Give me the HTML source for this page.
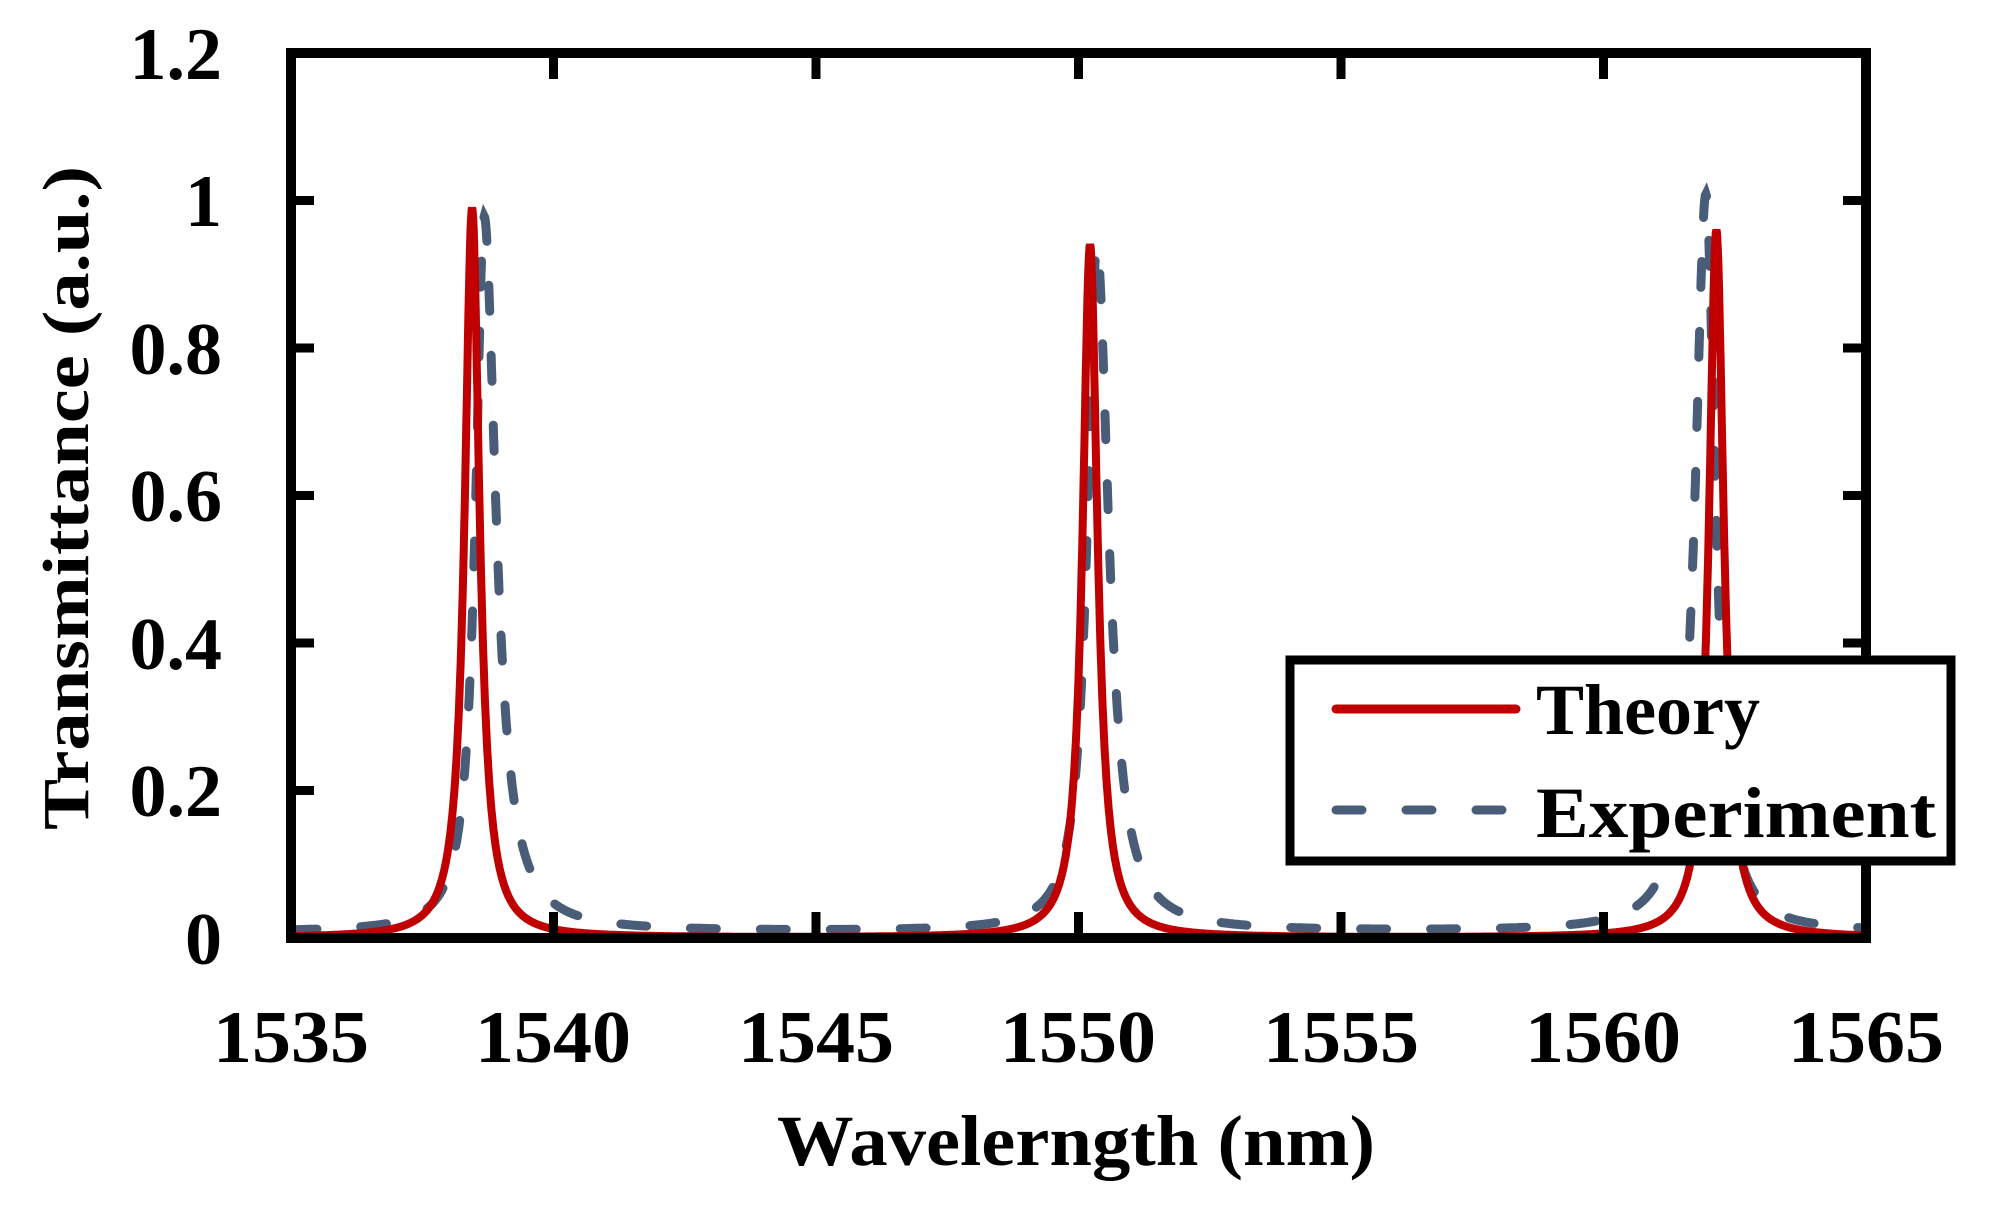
<!DOCTYPE html>
<html><head><meta charset="utf-8"><style>
html,body{margin:0;padding:0;background:#fff;}
svg{display:block;}
text{font-family:"Liberation Serif",serif;font-weight:bold;fill:#000;}
</style></head><body>
<svg id="s" width="1993" height="1211" viewBox="0 0 1993 1211" xmlns="http://www.w3.org/2000/svg">
<g font-size="74" text-anchor="end">
<text x="222" y="79">1.2</text>
<text x="222" y="226">1</text>
<text x="222" y="374">0.8</text>
<text x="222" y="521">0.6</text>
<text x="222" y="669">0.4</text>
<text x="222" y="816">0.2</text>
<text x="222" y="964">0</text>
</g>
<g font-size="74" text-anchor="middle">
<text x="291" y="1062" textLength="156" lengthAdjust="spacingAndGlyphs">1535</text>
<text x="553" y="1062" textLength="156" lengthAdjust="spacingAndGlyphs">1540</text>
<text x="816" y="1062" textLength="156" lengthAdjust="spacingAndGlyphs">1545</text>
<text x="1078" y="1062" textLength="156" lengthAdjust="spacingAndGlyphs">1550</text>
<text x="1341" y="1062" textLength="156" lengthAdjust="spacingAndGlyphs">1555</text>
<text x="1603" y="1062" textLength="156" lengthAdjust="spacingAndGlyphs">1560</text>
<text x="1866" y="1062" textLength="156" lengthAdjust="spacingAndGlyphs">1565</text>
</g>
<text x="777" y="1165" font-size="72" textLength="598" lengthAdjust="spacingAndGlyphs">Wavelerngth (nm)</text>
<text transform="translate(88,830) rotate(-90)" font-size="66" textLength="664" lengthAdjust="spacingAndGlyphs">Transmittance (a.u.)</text>
<g id="curves"></g>
<g id="frame" stroke="#000" stroke-width="10" fill="none">
<rect x="291" y="53" width="1575" height="885"/>
</g>
<g stroke="#000" stroke-width="9" id="ticks"></g>
<rect x="1290" y="660" width="661" height="201" fill="#fff" stroke="#000" stroke-width="9"/>
<line x1="1336" y1="709" x2="1516" y2="709" stroke="#c00000" stroke-width="9" stroke-linecap="round"/>
<line x1="1336" y1="810" x2="1516" y2="810" stroke="#4a5d78" stroke-width="9" stroke-linecap="round" stroke-dasharray="26 44"/>
<text x="1536" y="734" font-size="72">Theory</text>
<text x="1536" y="837" font-size="72" textLength="400" lengthAdjust="spacingAndGlyphs">Experiment</text>
</svg>
<script>
(function(){
var NS="http://www.w3.org/2000/svg";
function X(l){return 291+(l-1535)*52.5;}
function Y(v){return 938-v*737.5;}
function lor(l,c,a,w){return a*w*w/((l-c)*(l-c)+w*w);}
function th(l){return lor(l,1538.45,0.99,0.17)+lor(l,1550.22,0.94,0.17)+lor(l,1562.15,0.96,0.17);}
function ex(l){
 function p(c,a,wl,wr){var w=l<c?wl:wr;return lor(l,c,a,w);}
 return 0.008+p(1538.68,0.97,0.2,0.27)+p(1550.35,0.93,0.22,0.27)+p(1561.95,1.0,0.25,0.22);
}
function path(f){var d="";for(var l=1535;l<=1565.0001;l+=0.01){d+=(d?"L":"M")+X(l).toFixed(1)+","+Y(Math.min(f(l),1.02)).toFixed(1);}return d;}
var g=document.getElementById("curves");
var e=document.createElementNS(NS,"path");e.setAttribute("d",path(ex));e.setAttribute("fill","none");e.setAttribute("stroke","#4a5d78");e.setAttribute("stroke-width","9");e.setAttribute("stroke-dasharray","26 44");e.setAttribute("stroke-linecap","round");g.appendChild(e);
var t=document.createElementNS(NS,"path");t.setAttribute("d",path(th));t.setAttribute("fill","none");t.setAttribute("stroke","#c00000");t.setAttribute("stroke-width","8");g.appendChild(t);
var tk=document.getElementById("ticks");
function ln(a,b,c,d){var q=document.createElementNS(NS,"line");q.setAttribute("x1",a);q.setAttribute("y1",b);q.setAttribute("x2",c);q.setAttribute("y2",d);tk.appendChild(q);}
for(var i=1;i<6;i++){var x=X(1535+5*i);ln(x,938,x,912);ln(x,53,x,79);}
for(var j=1;j<6;j++){var y=Y(0.2*j);ln(291,y,314,y);ln(1866,y,1843,y);}
})();
</script>
</body></html>
